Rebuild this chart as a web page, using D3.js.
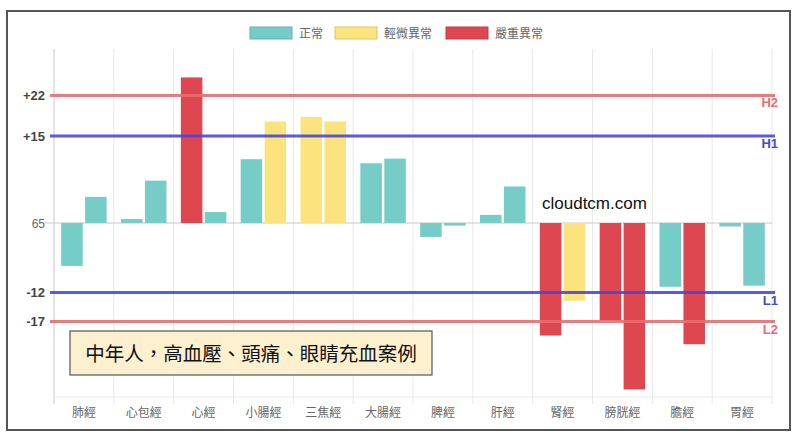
<!DOCTYPE html>
<html><head><meta charset="utf-8">
<script src="https://cdn.jsdelivr.net/npm/d3@7/dist/d3.min.js"></script>
<style>body{margin:0;background:#fff;font-family:"Noto Sans CJK TC","Noto Sans",sans-serif}</style>
</head><body><svg id="c" width="800" height="440"></svg>
<script>
const categories = ["肺經","心包經","心經","小腸經","三焦經","大腸經","脾經","肝經","腎經","膀胱經","膽經","胃經"];
const leftValues  = [-7.4, 0.7, 25.1, 11.0, 18.3, 10.3, -2.4, 1.4, -19.4, -16.8, -11.0, -0.6];
const rightValues = [4.5, 7.3, 1.9, 17.5, 17.5, 11.1, -0.45, 6.3, -13.4, -28.7, -20.9, -10.8];
const leftStatus  = [0,0,2,0,1,0,0,0,2,2,0,0];
const rightStatus = [0,0,0,1,1,0,0,0,1,2,2,0];
const statusNames = ["正常","輕微異常","嚴重異常"];
const statusColors = ["#76ccc6","#fce37e","#df4750"];
const tickValues = [22, 15, 0, -12, -17];
const tickLabels = ["+22","+15","65","-12","-17"];
const thresholds = [
  {v:22, label:"H2", color:"#e96d6d"},
  {v:15, label:"H1", color:"#4848d8"},
  {v:-12, label:"L1", color:"#4848d8"},
  {v:-17, label:"L2", color:"#e96d6d"}
];
const note = "中年人，高血壓、頭痛、眼睛充血案例";
const watermark = "cloudtcm.com";

const svg = d3.select("#c");
const L = 54, R = 772, T = 49, B = 397;
svg.append("rect").attr("x",7).attr("y",11).attr("width",783).attr("height",419)
  .attr("fill","none").attr("stroke","#555").attr("stroke-width",2);

const x = d3.scaleBand().domain(categories).range([L,R]);
const y = d3.scaleLinear().domain([-30,30]).range([B,T]);
const catW = x.bandwidth()*0.8, slot = catW/2, barW = slot*0.9;
const barX = (i,k) => x(categories[i]) + x.bandwidth()*0.1 + k*slot + (slot-barW)/2;

const bounds = categories.map(c=>x(c)).concat([R]);
svg.append("g").selectAll("line").data(bounds).join("line")
  .attr("x1",d=>d).attr("x2",d=>d).attr("y1",T).attr("y2",B+7)
  .attr("stroke",(d,i)=>i===0?"#c8c8c8":"#e8e8e8").attr("stroke-width",1);
svg.append("line").attr("x1",L).attr("x2",R).attr("y1",B).attr("y2",B).attr("stroke","#e8e8e8");
svg.append("line").attr("x1",L-9).attr("x2",R).attr("y1",y(0)).attr("y2",y(0)).attr("stroke","#c8c8c8");

const bars = [];
categories.forEach((c,i)=>{
  bars.push({i,k:0,v:leftValues[i],s:leftStatus[i]});
  bars.push({i,k:1,v:rightValues[i],s:rightStatus[i]});
});
svg.append("g").selectAll("rect").data(bars).join("rect")
  .attr("x",d=>barX(d.i,d.k)).attr("width",barW)
  .attr("y",d=>y(Math.max(0,d.v))).attr("height",d=>Math.abs(y(d.v)-y(0)))
  .attr("fill",d=>statusColors[d.s]);

const th = svg.append("g");
thresholds.forEach(t=>{
  th.append("line").attr("x1",L-4).attr("x2",R+3).attr("y1",y(t.v)).attr("y2",y(t.v))
    .attr("stroke",t.color).attr("stroke-width",3).attr("stroke-opacity",0.9);
  th.append("text").attr("x",R+6).attr("y",y(t.v)+12).attr("text-anchor","end")
    .attr("font-size",13).attr("font-weight","bold").attr("fill",t.color)
    .attr("font-family","Liberation Sans, Arial, sans-serif").text(t.label);
});

svg.append("g").selectAll("text").data(tickValues).join("text")
  .attr("x",45).attr("y",d=>y(d)+4.5).attr("text-anchor","end")
  .attr("font-family","Liberation Sans, Arial, sans-serif")
  .attr("font-size",d=>d===0?12:13).attr("font-weight",d=>d===0?"normal":"bold")
  .attr("fill",d=>d===0?"#666":"#444")
  .text((d,i)=>tickLabels[i]);

svg.append("g").selectAll("text").data(categories).join("text")
  .attr("x",d=>x(d)+x.bandwidth()/2).attr("y",417).attr("text-anchor","middle")
  .attr("font-size",12).attr("fill","#666").text(d=>d);

const lg = svg.append("g");
const legendX = [250,335,446];
statusNames.forEach((n,i)=>{
  lg.append("rect").attr("x",legendX[i]).attr("y",27).attr("width",42).attr("height",12)
    .attr("fill",statusColors[i]).attr("stroke",d3.color(statusColors[i]).darker(0.4)).attr("stroke-width",1);
  lg.append("text").attr("x",legendX[i]+49).attr("y",37.5).attr("font-size",12).attr("fill","#666").text(n);
});

svg.append("text").attr("x",542).attr("y",209).attr("font-size",17)
  .attr("font-family","Liberation Sans, Arial, sans-serif").attr("fill","#111").text(watermark);

svg.append("rect").attr("x",70).attr("y",331).attr("width",362).attr("height",44)
  .attr("fill","#fdf0cf").attr("stroke","#555").attr("stroke-width",1.2);
svg.append("text").attr("x",251).attr("y",360.5).attr("text-anchor","middle").attr("font-size",19.5)
  .attr("fill","#111").text(note);
</script></body></html>
